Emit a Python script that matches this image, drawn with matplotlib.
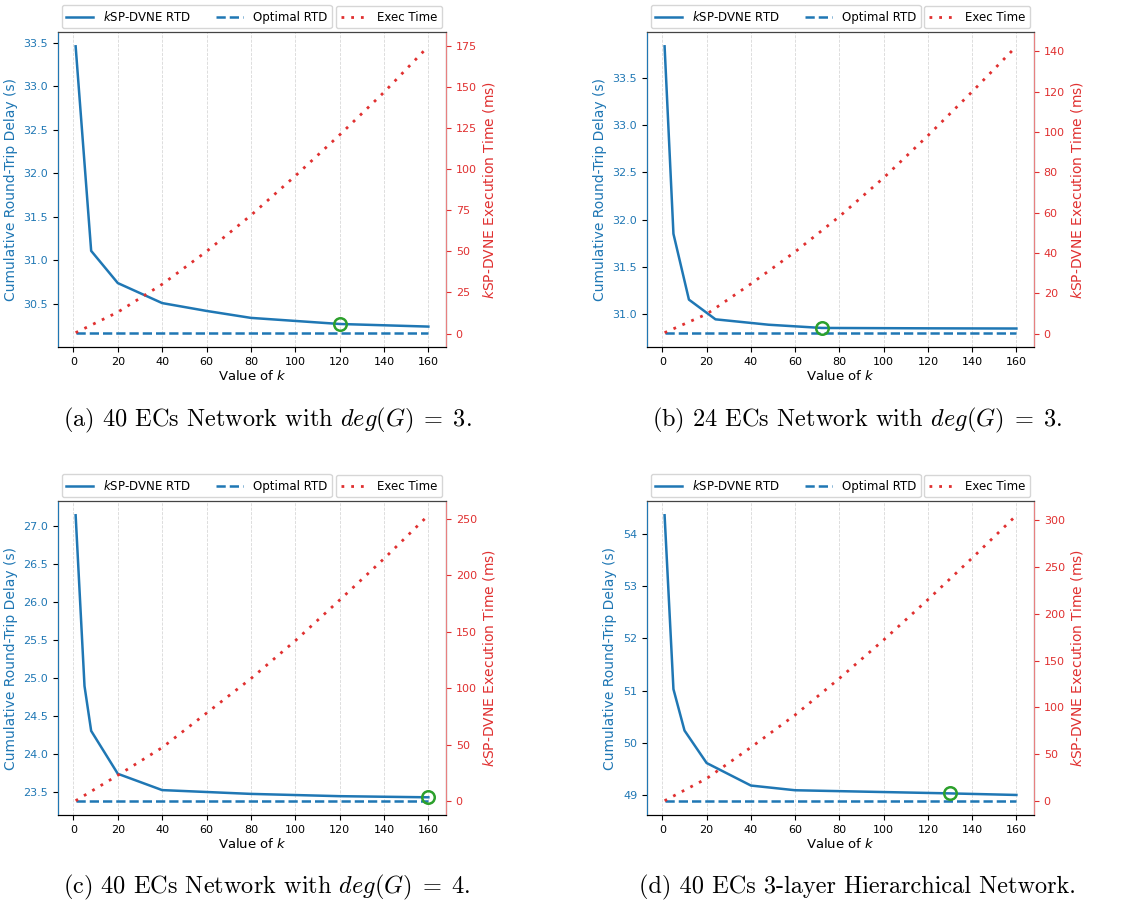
import matplotlib
matplotlib.use("Agg")
import matplotlib.pyplot as plt

# k values where the RTD curve was sampled, per panel
k_a = [1, 8, 20, 40, 60, 80, 120, 160]
rtd_a = [33.46, 31.11, 30.74, 30.51, 30.42, 30.34, 30.27, 30.24]
k_b = [1, 5, 12, 24, 48, 72, 120, 160]
rtd_b = [33.83, 31.85, 31.155, 30.947, 30.89, 30.856, 30.852, 30.85]
k_c = [1, 5, 8, 20, 40, 80, 120, 160]
rtd_c = [27.14, 24.89, 24.30, 23.735, 23.52, 23.47, 23.44, 23.425]
k_d = [1, 5, 10, 20, 40, 60, 130, 160]
rtd_d = [54.35, 51.03, 50.24, 49.62, 49.19, 49.10, 49.04, 49.01]

optimal = [30.17, 30.806, 23.38, 48.90]

# execution time (ms)
k_exec = [1, 20, 40, 60, 80, 100, 120, 140, 160]
exec_a = [0.5, 13, 30, 50, 72, 96, 121, 147, 175]
exec_b = [0.5, 9.7, 24.7, 40.6, 58.1, 77.3, 98.2, 120, 142.5]
exec_c = [0.5, 23, 47.5, 78, 108.5, 142, 178, 214.6, 253]
exec_d = [0.5, 24.2, 57.4, 92, 131, 172, 215, 259.4, 305]

best_k = [120, 72, 160, 130]

captions = [r'(a) 40 ECs Network with $deg(G)\;=\;3$.',
            r'(b) 24 ECs Network with $deg(G)\;=\;3$.',
            r'(c) 40 ECs Network with $deg(G)\;=\;4$.',
            '(d) 40 ECs 3-layer Hierarchical Network.']

panels = [(k_a, rtd_a, exec_a), (k_b, rtd_b, exec_b),
          (k_c, rtd_c, exec_c), (k_d, rtd_d, exec_d)]

W, H = 1139, 907
fig = plt.figure(figsize=(W / 100, H / 100), dpi=100)

# axes boxes in pixels: left, top, right, bottom
boxes = [(58, 32, 446, 347), (647, 32, 1034, 347),
         (58, 501, 446, 815), (647, 501, 1034, 815)]
cap_pos = [(267, 420), (857, 420), (267, 887), (857, 887)]

blue = 'tab:blue'
red = '#e03030'

for i, (ks, rtd, ex) in enumerate(panels):
    l, t, r, b = boxes[i]
    ax = fig.add_axes([l / W, 1 - b / H, (r - l) / W, (b - t) / H])
    ax2 = ax.twinx()

    l1, = ax.plot(ks, rtd, color=blue, lw=1.8, label=r'$k$SP-DVNE RTD')
    l2, = ax.plot([1, 160], [optimal[i], optimal[i]], color=blue, lw=1.8,
                  ls='--', label='Optimal RTD')
    j = ks.index(best_k[i])
    ax.plot(best_k[i], rtd[j], 'o', mfc='none', mec='tab:green',
            ms=9, mew=1.8, zorder=5)
    l3, = ax2.plot(k_exec, ex, color=red, lw=2, ls=(0, (1, 2.5)),
                   label='Exec Time')

    ax.set_xticks(range(0, 161, 20))
    ax.grid(axis='x', ls='--', color='#d8d8d8', lw=0.6)
    ax.tick_params(axis='both', labelsize=8)
    ax.tick_params(axis='y', labelcolor=blue)
    ax2.tick_params(axis='y', labelsize=8, colors=red)
    ax.set_xlabel(r'Value of $k$', fontsize=9.5, labelpad=2)
    ax.set_ylabel('Cumulative Round-Trip Delay (s)', color=blue, fontsize=10,
                  labelpad=4)
    ax2.set_ylabel(r'$k$SP-DVNE Execution Time (ms)', color=red, fontsize=10,
                   labelpad=3)
    ax2.spines['left'].set_color(blue)
    ax2.spines['right'].set_color('#e88080')
    ax2.spines['top'].set_color('#444444')

    leg1 = ax2.legend(handles=[l1, l2], loc='lower left',
                      bbox_to_anchor=(0, 1.0), ncol=2, fontsize=8.5,
                      handlelength=2.3, columnspacing=2.1, borderaxespad=0.3)
    ax2.add_artist(leg1)
    ax2.legend(handles=[l3], loc='lower right', bbox_to_anchor=(1, 1.0),
               fontsize=8.5, handlelength=2.3, borderaxespad=0.3)

    cx, cy = cap_pos[i]
    fig.text(cx / W, 1 - cy / H, captions[i], ha='center', va='center',
             fontfamily='cmr10', math_fontfamily='cm', fontsize=17.5)

fig.savefig('out.png', dpi=100)
